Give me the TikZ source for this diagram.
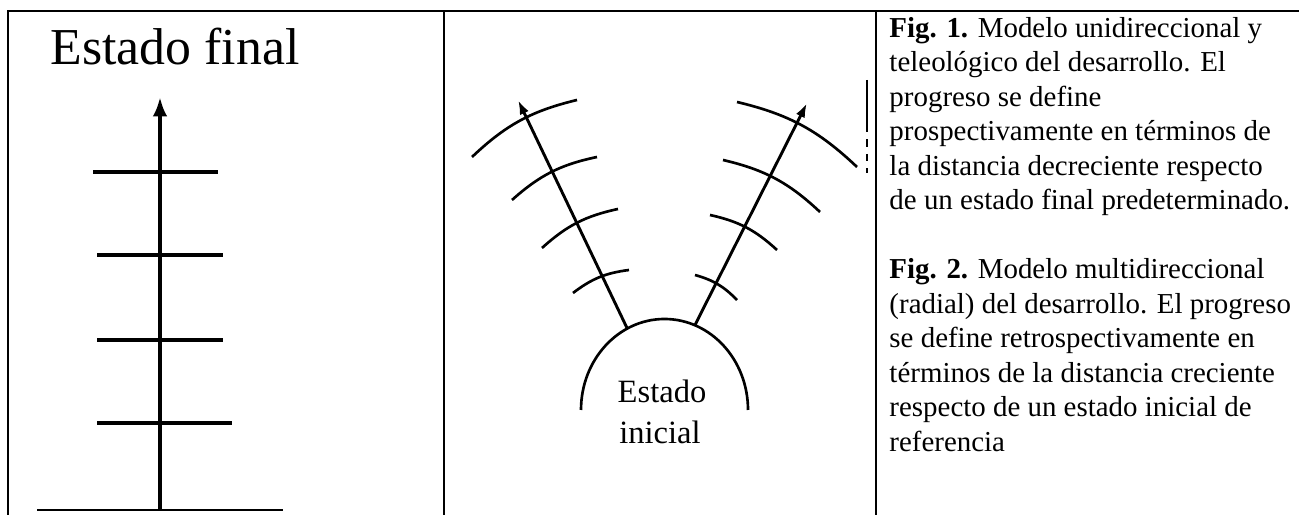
\documentclass[tikz,border=0pt]{standalone}
\usepackage{fontspec}
\setmainfont{Liberation Serif}
\usetikzlibrary{arrows.meta}

\begin{document}
\begin{tikzpicture}[x=0.415pt,y=0.415pt,
    frame/.style={line width=1pt},
    ray/.style={line width=1.2pt, -{Latex[length=6pt,width=4pt]}},
    ring/.style={line width=1.1pt, bend left=15}]
    \useasboundingbox (0,0) rectangle (1299,515);

    % Table
    \draw[frame] (8,0) -- (8,504) -- (1299,504);
    \draw[frame] (444,0) -- (444,504);
    \draw[frame] (876,0) -- (876,504);

    % Fig. 1
    \node[anchor=base west, inner sep=0, font=\fontsize{21.5}{24}\selectfont] (final) at (50,450) {Estado final};
    \coordinate (axisbot) at (160,5);
    \coordinate (axistop) at (160,418);
    \draw[line width=2pt, -{Latex[length=8pt,width=6pt]}] (axisbot) -- (axistop);
    \foreach \y/\a/\b in {343/93/218, 260/97/223, 175/97/223, 92/97/232}
        \draw[line width=1.5pt] (\a,\y) -- (\b,\y);
    \draw[line width=1.2pt] (37,5) -- (283,5);

    % Fig. 2
    \draw[line width=1.1pt] (581,105) arc[start angle=180, end angle=0, x radius=83.5, y radius=91];
    \node[anchor=base, inner sep=0, font=\fontsize{13.5}{16}\selectfont] (estado) at (662,112) {Estado};
    \node[anchor=base, inner sep=0, font=\fontsize{13.5}{16}\selectfont] (inicial) at (660,71) {inicial};
    \coordinate (lbase) at (627,187);
    \coordinate (ltip) at (518,415);
    \coordinate (rbase) at (695,190);
    \coordinate (rtip) at (807,412);
    \draw[ray] (lbase) -- (ltip);
    \draw[ray] (rbase) -- (rtip);
    \foreach \a/\b/\c/\d in {472/358/577/415, 512/315/597/358, 542/267/618/306, 573/222/629/245,
                             737/413/857/348, 723/355/820/303, 710/300/777/265, 695/240/737/215}
        \draw[ring] (\a,\b) to (\c,\d);
    \draw[line width=0.5pt] (867,435) -- (867,390);
    \draw[line width=0.5pt, dashed] (867,390) -- (867,342);

    % Captions
    \node[anchor=north west, inner sep=0, align=left, font=\fontsize{12}{14.3}\selectfont] (caption) at (889,498)
        {\textbf{Fig. 1.} Modelo unidireccional y\\
         teleológico del desarrollo. El\\
         progreso se define\\
         prospectivamente en términos de\\
         la distancia decreciente respecto\\
         de un estado final predeterminado.\\[14.3pt]
         \textbf{Fig. 2.} Modelo multidireccional\\
         (radial) del desarrollo. El progreso\\
         se define retrospectivamente en\\
         términos de la distancia creciente\\
         respecto de un estado inicial de\\
         referencia};
\end{tikzpicture}
\end{document}
